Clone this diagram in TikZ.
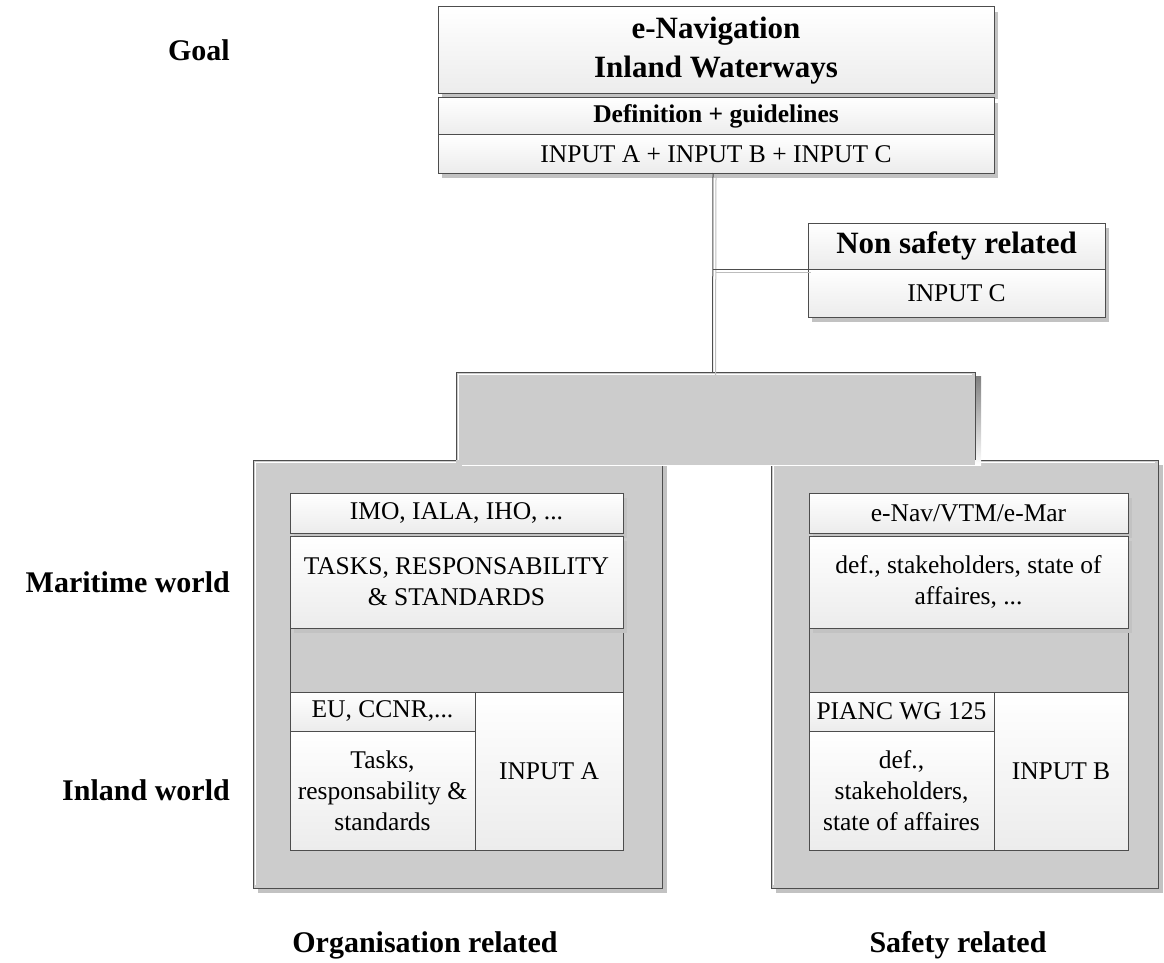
\documentclass[tikz,border=0pt]{standalone}
\usepackage{fontspec}
\setmainfont{Liberation Serif}
\usetikzlibrary{shadows}
\definecolor{edge}{HTML}{4D4D4D}
\definecolor{panel}{HTML}{CCCCCC}
\definecolor{shade}{HTML}{C2C2C2}
\definecolor{boxbot}{HTML}{ECECEC}
\definecolor{conlight}{HTML}{BDBDBD}
\newcommand\mytxt{\fontsize{25.5}{31}\selectfont}
\newcommand\mydef{\bfseries\fontsize{25.5}{31}\selectfont}
\newcommand\mytitle{\bfseries\fontsize{31}{39}\selectfont}
\newcommand\mylbl{\bfseries\fontsize{30}{36}\selectfont}
\begin{document}
\begin{tikzpicture}[x=1pt,y=-1pt,
  box/.style={draw=edge, line width=1pt, top color=white, bottom color=boxbot,
    inner sep=0pt, outer sep=0pt, anchor=north west, align=center, font=\mytxt},
  shbox/.style={box, drop shadow={shadow xshift=4pt, shadow yshift=-5pt, opacity=1, fill=shade}},
  panelbox/.style={draw=edge, line width=1pt, fill=panel, inner sep=0pt, outer sep=0pt,
    anchor=north west, drop shadow={shadow xshift=5pt, shadow yshift=-5pt, opacity=1, fill=shade}},
  cont/.style={draw=edge, line width=1pt, fill=panel, inner sep=0pt, outer sep=0pt, anchor=north west},
  hl/.style={draw=white, line width=1pt},
  conn/.style={draw=edge, line width=1pt, preaction={draw=conlight, line width=1pt, transform canvas={shift={(3pt,-3pt)}}}},
  lbl/.style={font=\mylbl, anchor=east, inner sep=0pt}
]
\useasboundingbox (0,0) rectangle (1164,963);

% labels
\node[lbl] (goal) at (230,50) {Goal};
\node[lbl] (maritime) at (230,582) {Maritime world};
\node[lbl] (inland) at (230,790) {Inland world};
\node[font=\mylbl, inner sep=0pt] (org) at (425,945) {Organisation related};
\node[font=\mylbl, inner sep=0pt] (safe) at (958,945) {Safety related};

% gray container panels
\node[panelbox, minimum width=409pt, minimum height=428pt] (lpanel) at (253,460) {};
\node[panelbox, minimum width=387pt, minimum height=428pt] (rpanel) at (771,460) {};
\draw[hl] ([xshift=2.5pt,yshift=3pt]lpanel.south west) |- ([xshift=-3pt,yshift=-2.5pt]lpanel.north east);
\draw[hl] ([xshift=2.5pt,yshift=3pt]rpanel.south west) |- ([xshift=-3pt,yshift=-2.5pt]rpanel.north east);

% upper part of the container
\node[inner sep=0pt, outer sep=0pt, minimum width=519pt, minimum height=93pt, anchor=north west] (upper) at (456,372) {};
\fill[shade] ([shift={(6pt,-4pt)}]upper.north west) rectangle ([xshift=6pt]upper.south east);
\fill[panel] (upper.north west) rectangle (upper.south east);
\draw[edge, line width=1pt] ([yshift=5pt]upper.south west) |- (upper.north east) -- ([yshift=5pt]upper.south east);
\draw[hl] ([xshift=2.5pt,yshift=5pt]upper.south west) |- ([xshift=-3pt,yshift=-2.5pt]upper.north east);

% top goal box
\node[shbox, minimum width=556pt, minimum height=87pt, font=\mytitle] (title) at (438,7) {e-Navigation\\Inland Waterways};
\node[shbox, minimum width=556pt, minimum height=37pt, font=\mydef] (def) at (438,98) {Definition + guidelines};
\node[shbox, minimum width=556pt, minimum height=38pt] (rows) at (438,135) {INPUT A + INPUT B + INPUT C};

% non safety box
\node[shbox, minimum width=297pt, minimum height=46pt, font=\mytitle] (nstitle) at (808,223) {Non safety related};
\node[shbox, minimum width=297pt, minimum height=48pt] (nsrow) at (808,269) {INPUT C};

% connectors
\coordinate (jn) at ([xshift=-3pt]rows.south |- nstitle.south west);
\draw[conn] ([xshift=-3pt]rows.south) -- ([xshift=-3pt]upper.north);
\draw[conn] (jn) -- (nstitle.south west);

% left panel content
\node[cont, minimum width=333pt, minimum height=222pt] (lcont) at (290,628) {};
\node[shbox, minimum width=333pt, minimum height=40pt] (imo) at (290,493) {IMO, IALA, IHO, ...};
\node[shbox, minimum width=333pt, minimum height=92pt] (ltasks) at (290,536) {TASKS, RESPONSABILITY\\\& STANDARDS};
\node[box, minimum width=185pt, minimum height=39pt] (eu) at (290,692) {EU, CCNR,...};
\node[box, minimum width=185pt, minimum height=119pt] (itasks) at (290,731) {Tasks,\\responsability \&\\standards};
\node[box, minimum width=148pt, minimum height=158pt] (inputa) at (475,692) {INPUT A};

% right panel content
\node[cont, minimum width=319pt, minimum height=222pt] (rcont) at (809,628) {};
\node[shbox, minimum width=319pt, minimum height=40pt] (enav) at (809,493) {e-Nav/VTM/e-Mar};
\node[shbox, minimum width=319pt, minimum height=92pt] (rdef) at (809,536) {def., stakeholders, state of\\affaires, ...};
\node[box, minimum width=185pt, minimum height=39pt] (pianc) at (809,692) {PIANC WG 125};
\node[box, minimum width=134pt, minimum height=158pt] (inputb) at (994,692) {INPUT B};
\node[box, minimum width=185pt, minimum height=119pt] (idef) at (809,731) {def.,\\stakeholders,\\state of affaires};
\end{tikzpicture}
\end{document}
